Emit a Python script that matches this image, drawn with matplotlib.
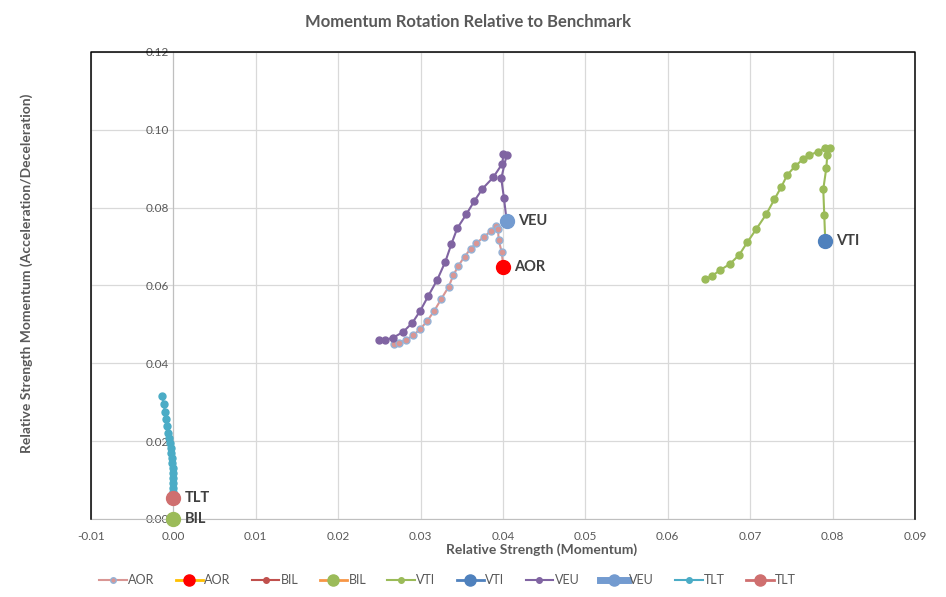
import matplotlib
matplotlib.use('Agg')
import matplotlib.pyplot as plt

plt.rcParams['font.family'] = ['Lato', 'DejaVu Sans']

# AOR trail (relative strength, momentum)
aor_x = [0.02673, 0.02742, 0.02823, 0.02911, 0.02996, 0.03081, 0.03166, 0.03250,
         0.03339, 0.03397, 0.03456, 0.03533, 0.03606, 0.03676, 0.03766, 0.03852,
         0.03915, 0.03939, 0.03948, 0.03984, 0.04004]
aor_y = [0.0450, 0.0453, 0.0460, 0.0472, 0.0488, 0.0509, 0.0535, 0.0565,
         0.0596, 0.0626, 0.0650, 0.0674, 0.0694, 0.0709, 0.0724, 0.0740,
         0.0753, 0.0745, 0.0717, 0.0686, 0.0648]

# VEU trail
veu_x = [0.02495, 0.02568, 0.02669, 0.02790, 0.02900, 0.02996, 0.03093, 0.03203,
         0.03300, 0.03373, 0.03445, 0.03555, 0.03652, 0.03749, 0.03882, 0.03992,
         0.04004, 0.04045, 0.03979, 0.04012, 0.04045]
veu_y = [0.0460, 0.0460, 0.0466, 0.0481, 0.0504, 0.0535, 0.0573, 0.0615,
         0.0661, 0.0706, 0.0747, 0.0783, 0.0817, 0.0848, 0.0878, 0.0913,
         0.0938, 0.0936, 0.0875, 0.0824, 0.0766]

# VTI trail
vti_x = [0.06451, 0.06540, 0.06633, 0.06758, 0.06868, 0.06965, 0.07074, 0.07195,
         0.07293, 0.07377, 0.07450, 0.07547, 0.07644, 0.07717, 0.07826, 0.07908,
         0.07972, 0.07936, 0.07924, 0.07887, 0.07899, 0.07911]
vti_y = [0.0616, 0.0625, 0.0639, 0.0656, 0.0679, 0.0711, 0.0745, 0.0783,
         0.0821, 0.0853, 0.0884, 0.0907, 0.0925, 0.0935, 0.0944, 0.0954,
         0.0954, 0.0935, 0.0902, 0.0847, 0.0782, 0.0715]

# TLT trail
tlt_x = [-0.00135, -0.00120, -0.00102, -0.00090, -0.00074, -0.00062, -0.00050,
         -0.00041, -0.00033, -0.00025, -0.00020, -0.00013, -0.00008, -0.00005,
         -0.00003, -0.00001, 0.0, 0.0, 0.0]
tlt_y = [0.0316, 0.0296, 0.0276, 0.0258, 0.0240, 0.0222, 0.0207, 0.0195,
         0.0182, 0.0169, 0.0156, 0.0143, 0.0130, 0.0117, 0.0105, 0.0092,
         0.0079, 0.0069, 0.0053]

# BIL trail (sits on the origin)
bil_x = [0.0, 0.0, 0.0, 0.0]
bil_y = [0.0, 0.0, 0.0, 0.0]

fig = plt.figure(figsize=(9.46, 5.97), dpi=100)
ax = fig.add_axes([0.0962, 0.1307, 0.871, 0.7822])

small = dict(marker='o', markersize=5, linewidth=1.5, clip_on=False, zorder=6)
big = dict(marker='o', markersize=10, linewidth=2, clip_on=False, zorder=7)

ax.plot(aor_x, aor_y, color='#D99694', mfc='#D99694', mec='#95B3D7', mew=1, label='AOR', **small)
ax.plot(aor_x[-1:], aor_y[-1:], color='#FFC000', mfc='#FF0000', mec='#FF0000', label='AOR', **big)
ax.plot(bil_x, bil_y, color='#C0504D', mfc='#C0504D', mec='#C0504D', label='BIL', **small)
ax.plot(bil_x[-1:], bil_y[-1:], color='#F79646', mfc='#9BBB59', mec='#9BBB59', label='BIL', **big)
ax.plot(vti_x, vti_y, color='#9BBB59', mfc='#9BBB59', mec='#9BBB59', label='VTI', **small)
ax.plot(vti_x[-1:], vti_y[-1:], color='#4F81BD', mfc='#4F81BD', mec='#4F81BD', label='VTI', **big)
ax.plot(veu_x, veu_y, color='#8064A2', mfc='#8064A2', mec='#8064A2', label='VEU', **small)
ax.plot(veu_x[-1:], veu_y[-1:], color='#739BD0', mfc='#739BD0', mec='#739BD0', label='VEU',
        marker='o', markersize=10, linewidth=5, clip_on=False, zorder=7)
ax.plot(tlt_x, tlt_y, color='#4BACC6', mfc='#4BACC6', mec='#4BACC6', label='TLT', **small)
ax.plot(tlt_x[-1:], tlt_y[-1:], color='#CF6F6F', mfc='#CF6F6F', mec='#CF6F6F', label='TLT', **big)

# data labels at the latest point
for name, xs, ys in [('VEU', veu_x, veu_y), ('AOR', aor_x, aor_y), ('VTI', vti_x, vti_y),
                     ('TLT', tlt_x, tlt_y), ('BIL', bil_x, bil_y)]:
    ax.annotate(name, (xs[-1], ys[-1]), xytext=(8, 0), textcoords='offset points',
                ha='left', va='center', fontsize=10.5, fontweight='bold', color='#404040',
                annotation_clip=False)

ax.set_xlim(-0.01, 0.09)
ax.set_ylim(0, 0.12)
ax.set_xticks([i / 100 for i in range(-1, 10)])
ax.set_yticks([i / 100 for i in range(0, 13, 2)])
ax.xaxis.set_major_formatter(plt.FuncFormatter(lambda v, p: f"{v:.2f}"))
ax.yaxis.set_major_formatter(plt.FuncFormatter(lambda v, p: f"{v:.2f}"))
ax.tick_params(length=0, labelsize=8.5, labelcolor='#595959')
ax.tick_params(axis='x', pad=9)
ax.tick_params(axis='y', pad=3)
ax.grid(color='#D9D9D9', linewidth=0.9)
ax.set_axisbelow(True)

ax.spines['left'].set_position(('data', 0))
ax.spines['left'].set_color('#BFBFBF')
ax.spines['bottom'].set_color('#BFBFBF')
ax.spines['top'].set_visible(False)
ax.spines['right'].set_visible(False)
# plot area frame
ax.plot([0, 0, 1, 1], [0, 1, 1, 0], transform=ax.transAxes, color='black',
        linewidth=1.1, clip_on=False, zorder=5)

fig.text(0.495, 0.963, 'Momentum Rotation Relative to Benchmark', ha='center', va='center',
         fontsize=12, fontweight='bold', color='#595959')
fig.text(0.572, 0.079, 'Relative Strength (Momentum)', ha='center', va='center',
         fontsize=10, fontweight='bold', color='#595959')
fig.text(0.0285, 0.543, 'Relative Strength Momentum (Acceleration/Deceleration)', ha='center',
         va='center', rotation=90, fontsize=10, fontweight='bold', color='#595959')

fig.legend(loc='center left', bbox_to_anchor=(0.093, 0.028), ncol=10, frameon=False,
           fontsize=9, labelcolor='#595959', handlelength=2.2, handletextpad=0.1,
           columnspacing=1.7, markerscale=0.8)

fig.savefig('out.png', dpi=100)
